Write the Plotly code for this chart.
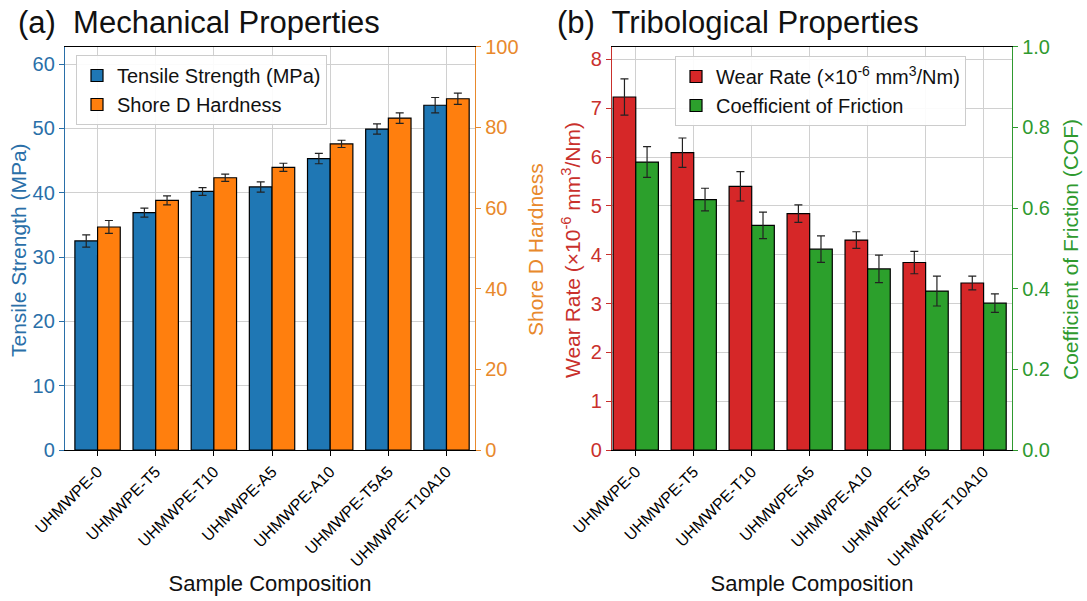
import plotly.graph_objects as go

categories = ["UHMWPE-0", "UHMWPE-T5", "UHMWPE-T10", "UHMWPE-A5",
              "UHMWPE-A10", "UHMWPE-T5A5", "UHMWPE-T10A10"]

tensile = [32.5, 36.9, 40.2, 40.9, 45.3, 49.9, 53.6]
tensile_err = [0.95, 0.7, 0.6, 0.8, 0.8, 0.8, 1.2]
hardness = [55.3, 61.9, 67.5, 70.1, 75.9, 82.3, 87.1]
hardness_err = [1.6, 1.1, 0.9, 1.0, 0.9, 1.3, 1.4]

wear = [7.23, 6.09, 5.40, 4.84, 4.30, 3.84, 3.42]
wear_err = [0.37, 0.30, 0.30, 0.18, 0.17, 0.23, 0.14]
cof = [0.714, 0.621, 0.557, 0.498, 0.449, 0.394, 0.364]
cof_err = [0.038, 0.028, 0.033, 0.033, 0.034, 0.037, 0.023]

BLUE = "#1f77b4"
ORANGE = "#ff7f0e"
RED = "#d62728"
GREEN = "#2ca02c"
AX_BLUE = "#2a6fa8"
AX_ORANGE = "#e8892c"
AX_RED = "#c9302c"
AX_GREEN = "#2f9a2f"
FONT = "Liberation Sans, Arial, sans-serif"
W = 0.39
TICK = 20
ATITLE = 21

fig = go.Figure()

def bar(y, err, color, name, xa, ya, offset, legend):
    return go.Bar(
        x=categories, y=y, name=name, xaxis=xa, yaxis=ya,
        marker=dict(color=color, line=dict(color="black", width=1.2)),
        width=W, offset=offset, legend=legend,
        error_y=dict(type="data", array=err, visible=True, color="#222222",
                     thickness=1.2, width=4),
    )

fig.add_trace(bar(tensile, tensile_err, BLUE, "Tensile Strength (MPa)", "x", "y", -W, "legend"))
fig.add_trace(bar(hardness, hardness_err, ORANGE, "Shore D Hardness", "x", "y2", 0, "legend"))
fig.add_trace(bar(wear, wear_err, RED, "Wear Rate (×10<sup>-6</sup> mm<sup>3</sup>/Nm)", "x2", "y3", -W, "legend2"))
fig.add_trace(bar(cof, cof_err, GREEN, "Coefficient of Friction", "x2", "y4", 0, "legend2"))

grid = "#d0d0d0"
xcommon = dict(type="category", showgrid=True, gridcolor=grid, gridwidth=1,
               showline=True, linecolor="black", linewidth=1.3, mirror=True,
               ticks="outside", ticklen=5, tickcolor="black", tickangle=-45,
               tickfont=dict(size=16, color="black", family=FONT),
               title=dict(text="Sample Composition", font=dict(size=22, color="#111", family=FONT), standoff=6),
               zeroline=False, automargin=False)

def ycommon(color):
    return dict(showline=True, linecolor=color, linewidth=1.3, ticks="outside",
                ticklen=5, tickcolor=color, zeroline=False, automargin=False,
                tickfont=dict(size=TICK, color=color))

YMID = 1 - 250/601

def ytitle(text, xpix, color):
    return dict(text=text, x=xpix/1087, y=YMID, xref="paper", yref="paper",
                xanchor="center", yanchor="middle", textangle=-90, showarrow=False,
                font=dict(size=ATITLE, color=color))

fig.update_layout(
    width=1087, height=601,
    margin=dict(l=0, r=0, t=0, b=0),
    paper_bgcolor="white", plot_bgcolor="white",
    font=dict(family=FONT),
    barmode="overlay",
    xaxis=dict(xcommon, domain=[65/1087, 475/1087], anchor="y", range=[-0.56, 6.49]),
    xaxis2=dict(xcommon, domain=[612/1087, 1012/1087], anchor="y3", range=[-0.41, 6.49]),
    yaxis=dict(ycommon(AX_BLUE),
               domain=[1-450/601, 1-46.7/601], anchor="x", range=[0, 62.7],
               tickvals=[0, 10, 20, 30, 40, 50, 60], showgrid=True, gridcolor=grid),
    yaxis2=dict(ycommon(AX_ORANGE),
                overlaying="y", side="right", anchor="x", range=[0, 100],
                tickvals=[0, 20, 40, 60, 80, 100], showgrid=False),
    yaxis3=dict(ycommon(AX_RED),
                domain=[1-450/601, 1-46.7/601], anchor="x2", range=[0, 8.26],
                tickvals=[0, 1, 2, 3, 4, 5, 6, 7, 8], showgrid=True, gridcolor=grid),
    yaxis4=dict(ycommon(AX_GREEN),
                overlaying="y3", side="right", anchor="x2", range=[0, 1.0],
                tickvals=[0, 0.2, 0.4, 0.6, 0.8, 1.0], tickformat=".1f", showgrid=False),
    legend=dict(x=76/1087, y=1-55/601, xanchor="left", yanchor="top",
                bgcolor="rgba(255,255,255,0.9)", bordercolor="#cccccc", borderwidth=1,
                font=dict(size=20, color="#111"), tracegroupgap=2),
    legend2=dict(x=675/1087, y=1-56/601, xanchor="left", yanchor="top",
                 bgcolor="rgba(255,255,255,0.9)", bordercolor="#cccccc", borderwidth=1,
                 font=dict(size=20, color="#111"), tracegroupgap=2),
    annotations=[
        dict(text="(a)  Mechanical Properties", x=16/1087, y=1-23/601, xref="paper", yref="paper",
             xanchor="left", yanchor="middle", showarrow=False, font=dict(size=31, color="#111")),
        dict(text="(b)  Tribological Properties", x=555/1087, y=1-23/601, xref="paper", yref="paper",
             xanchor="left", yanchor="middle", showarrow=False, font=dict(size=31, color="#111")),
        ytitle("Tensile Strength (MPa)", 18, AX_BLUE),
        ytitle("Shore D Hardness", 535, AX_ORANGE),
        ytitle("Wear Rate (×10<sup>-6</sup> mm<sup>3</sup>/Nm)", 571, AX_RED),
        ytitle("Coefficient of Friction (COF)", 1070, AX_GREEN),
    ],
)

fig.write_html("out.html", post_script="document.body.style.margin='0';",
               config={"displayModeBar": False})
